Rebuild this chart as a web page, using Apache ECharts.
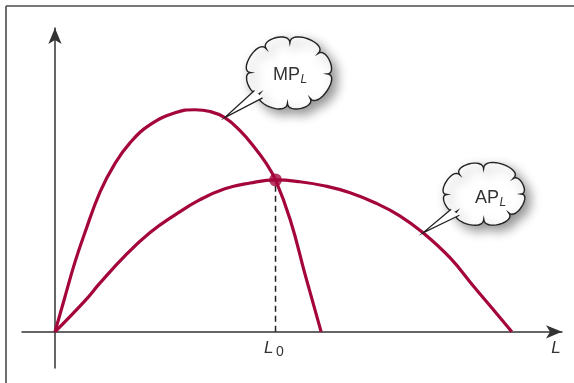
<!DOCTYPE html>
<html>
<head>
<meta charset="utf-8">
<script src="https://cdn.jsdelivr.net/npm/echarts@6/dist/echarts.min.js"></script>
<style>
  html, body { margin: 0; padding: 0; background: #fff; }
  #chart { width: 574px; height: 383px; }
</style>
</head>
<body>
<div id="chart"></div>
<script>
// Marginal product of labour (MP_L): labour input vs output of the extra worker
const mpLabour = [0, 0.18, 0.39, 0.59, 0.89, 1.18, 1.48, 1.87, 2.37, 2.76, 3.06, 3.35, 3.65, 3.94, 4.16, 4.35, 4.64, 4.93, 5.25];
const mpValue  = [0, 1.05, 2.27, 3.26, 4.61, 5.53, 6.22, 6.81, 7.21, 7.31, 7.25, 7.05, 6.62, 6.06, 5.56, 5.00, 3.69, 1.91, 0];

// Average product of labour (AP_L)
const apLabour = [0, 0.59, 0.89, 1.38, 1.87, 2.37, 2.86, 3.35, 3.85, 4.35, 4.83, 5.33, 5.82, 6.31, 6.80, 7.26, 7.79, 8.28, 8.68, 9.01];
const apValue  = [0, 1.02, 1.61, 2.50, 3.26, 3.85, 4.35, 4.71, 4.90, 5.00, 4.94, 4.80, 4.58, 4.25, 3.82, 3.26, 2.44, 1.45, 0.66, 0];

// MP_L cuts AP_L at the top of AP_L
const L0 = 4.35;
const apMax = 5.00;

// Points on each curve where the callout tails end
const mpCalloutIndex = 11;
const apCalloutIndex = 15;

const CRIMSON = '#a4063c';
const INK = '#333';
const FONT = '"Liberation Sans", Arial, sans-serif';

const zip = (xs, ys) => xs.map((x, i) => [x, ys[i]]);

const chart = echarts.init(document.getElementById('chart'), null, { renderer: 'canvas' });

const axisLine = {
  show: true,
  onZero: true,
  symbol: ['none', 'arrow'],
  symbolSize: [10, 16],
  lineStyle: { color: INK, width: 1.5 }
};

chart.setOption({
  animation: false,
  backgroundColor: '#fff',
  grid: { left: 22, right: 12, top: 28, bottom: 15 },
  xAxis: {
    type: 'value', min: -0.65, max: 10,
    axisLine: axisLine,
    axisTick: { show: false }, axisLabel: { show: false }, splitLine: { show: false }
  },
  yAxis: {
    type: 'value', min: -1.19, max: 10,
    axisLine: axisLine,
    axisTick: { show: false }, axisLabel: { show: false }, splitLine: { show: false }
  },
  series: [
    {
      name: 'L0 guide', type: 'line', data: [[L0, 0], [L0, apMax]],
      symbol: 'none', z: 1,
      lineStyle: { color: '#222', width: 1.5, type: [6, 4] }
    },
    {
      name: 'AP_L', type: 'line', data: zip(apLabour, apValue),
      smooth: 0.45, symbol: 'none', z: 2,
      lineStyle: { color: CRIMSON, width: 3.2 }
    },
    {
      name: 'MP_L', type: 'line', data: zip(mpLabour, mpValue),
      smooth: 0.45, symbol: 'none', z: 2,
      lineStyle: { color: CRIMSON, width: 3.2 }
    },
    {
      name: 'AP_L max', type: 'scatter', data: [[L0, apMax]],
      symbolSize: 13, z: 3,
      itemStyle: { color: CRIMSON }
    }
  ]
});

// Scalloped cloud outline around an ellipse, sampled as a polygon.
// Lobe junction 0 sits at parameter angle a0; `spans` sets how wide each lobe is.
function cloudPoints(cx, cy, rx, ry, a0, spans, depth) {
  const total = spans.reduce((s, v) => s + v, 0);
  const nodes = [];
  let acc = 0;
  for (let i = 0; i < spans.length; i++) {
    const a = a0 + 2 * Math.PI * acc / total;
    nodes.push({ x: cx + rx * Math.cos(a), y: cy + ry * Math.sin(a), a: a });
    acc += spans[i];
  }
  const out = [];
  const steps = 16;
  const n = nodes.length;
  for (let i = 0; i < n; i++) {
    const p0 = nodes[i], p1 = nodes[(i + 1) % n];
    const chord = Math.hypot(p1.x - p0.x, p1.y - p0.y);
    const h = chord * depth;
    const c1 = [p0.x + Math.cos(p0.a) * h, p0.y + Math.sin(p0.a) * h];
    const c2 = [p1.x + Math.cos(p1.a) * h, p1.y + Math.sin(p1.a) * h];
    for (let s = 0; s < steps; s++) {
      const t = s / steps, u = 1 - t;
      out.push([
        u * u * u * p0.x + 3 * u * u * t * c1[0] + 3 * u * t * t * c2[0] + t * t * t * p1.x,
        u * u * u * p0.y + 3 * u * u * t * c1[1] + 3 * u * t * t * c2[1] + t * t * t * p1.y
      ]);
    }
  }
  return out;
}

function callout(cx, cy, rx, ry, spans, tip, mainText, subText, textX, textY) {
  const a = Math.atan2((tip[1] - cy) / ry, (tip[0] - cx) / rx);
  const spread = 0.15, reach = 1.08;
  const b1 = [cx + reach * rx * Math.cos(a - spread), cy + reach * ry * Math.sin(a - spread)];
  const b2 = [cx + reach * rx * Math.cos(a + spread), cy + reach * ry * Math.sin(a + spread)];
  return [
    {
      type: 'polygon', z: 10,
      shape: { points: cloudPoints(cx, cy, rx, ry, a, spans, 0.5) },
      style: {
        fill: '#fff', stroke: '#222', lineWidth: 1.4,
        shadowColor: 'rgba(0,0,0,0.42)', shadowBlur: 11, shadowOffsetX: 5, shadowOffsetY: 5
      }
    },
    {
      type: 'polygon', z: 11,
      shape: { points: [b1, b2, tip] },
      style: { fill: '#fff' }
    },
    {
      type: 'polyline', z: 12,
      shape: { points: [b1, tip, b2] },
      style: { fill: null, stroke: '#222', lineWidth: 1.3 }
    },
    {
      type: 'text', z: 13, x: textX, y: textY,
      style: { text: mainText, font: '18px ' + FONT, fill: INK, align: 'right', verticalAlign: 'middle' }
    },
    {
      type: 'text', z: 13, x: textX + 0.5, y: textY + 5,
      style: { text: subText, font: 'italic 12px ' + FONT, fill: INK, align: 'left', verticalAlign: 'middle' }
    }
  ];
}

const mpTip = chart.convertToPixel({ gridIndex: 0 }, [mpLabour[mpCalloutIndex], mpValue[mpCalloutIndex]]);
const apTip = chart.convertToPixel({ gridIndex: 0 }, [apLabour[apCalloutIndex], apValue[apCalloutIndex]]);
const l0Px = chart.convertToPixel({ gridIndex: 0 }, [L0, 0]);
const endPx = chart.convertToPixel({ gridIndex: 0 }, [10, 0]);

const graphics = [
  // frame edges
  { type: 'line', z: 0, shape: { x1: 6, y1: 6, x2: 574, y2: 6 }, style: { stroke: '#4a4a4a', lineWidth: 1.6 } },
  { type: 'line', z: 0, shape: { x1: 6, y1: 6, x2: 6, y2: 383 }, style: { stroke: '#4a4a4a', lineWidth: 1.6 } },
  // axis labels
  {
    type: 'text', x: l0Px[0] - 2, y: l0Px[1] + 16,
    style: { text: 'L', font: 'italic 17px ' + FONT, fill: INK, align: 'right', verticalAlign: 'middle' }
  },
  {
    type: 'text', x: l0Px[0] + 0.5, y: l0Px[1] + 20,
    style: { text: '0', font: '14px ' + FONT, fill: INK, align: 'left', verticalAlign: 'middle' }
  },
  {
    type: 'text', x: endPx[0] - 6, y: endPx[1] + 16,
    style: { text: 'L', font: 'italic 17px ' + FONT, fill: INK, align: 'center', verticalAlign: 'middle' }
  }
]
  .concat(callout(289, 73, 38, 30, [1.0, 1.25, 0.9, 1.15, 1.0, 1.3, 0.85, 1.1], mpTip, 'MP', 'L', 300, 75))
  .concat(callout(484, 194, 37, 25, [1.0, 1.2, 0.95, 1.25, 0.9, 1.15, 1.0, 1.1], apTip, 'AP', 'L', 499, 198));

chart.setOption({ graphic: graphics });
</script>
</body>
</html>
